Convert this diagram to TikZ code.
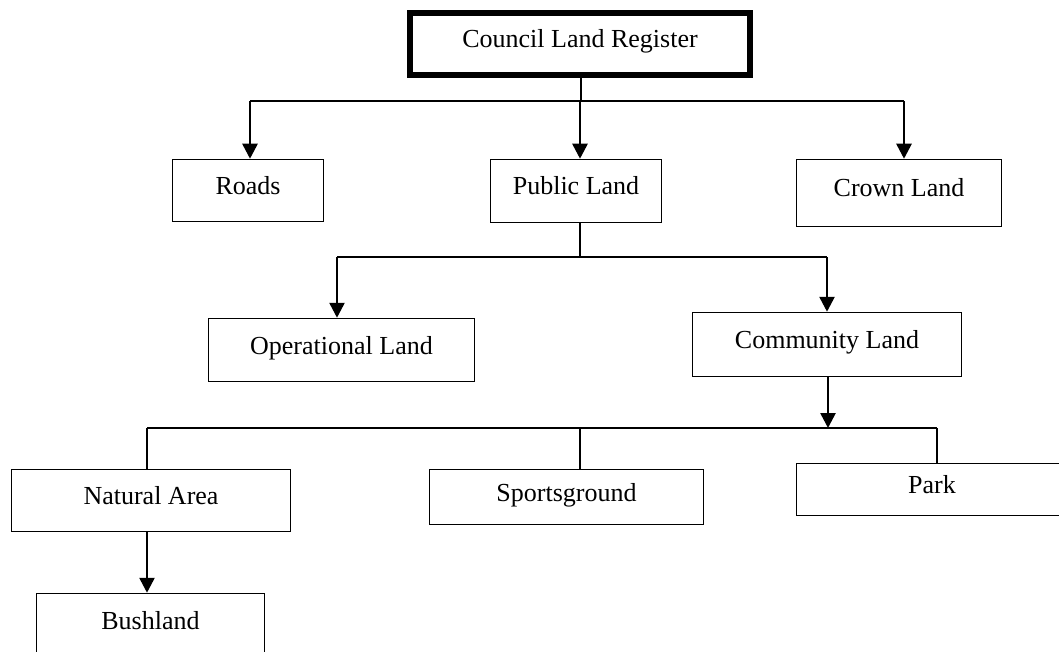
\documentclass[tikz,border=0pt]{standalone}
\usepackage{fontspec}
\setmainfont{Liberation Serif}
\usetikzlibrary{arrows.meta}
\tikzset{
  box/.style={draw, line width=1.5pt, inner sep=0pt, text height=17pt, text depth=9pt,
    font=\fontsize{26}{30}\selectfont, align=center},
  mainbox/.style={box, line width=6pt},
  bus/.style={line width=2pt},
  thin/.style={line width=1.4pt},
  arr/.style={line width=2.6pt, -{Triangle[length=15pt,width=15pt]}},
}
\begin{document}
\begin{tikzpicture}[x=1pt,y=-1pt]
\useasboundingbox (0,0) rectangle (1059,652);
\clip (0,0) rectangle (1059,652);
% nodes
\node[mainbox, minimum width=340pt, minimum height=62pt] (cl) at (580,44) {Council Land Register};
\node[box, minimum width=151pt, minimum height=62pt] (rd) at (248,190.5) {Roads};
\node[box, minimum width=171pt, minimum height=63pt] (pl) at (576,191) {Public Land};
\node[box, minimum width=205pt, minimum height=67pt] (crl) at (899,193) {Crown Land};
\node[box, minimum width=266pt, minimum height=63pt] (op) at (341.5,350) {Operational Land};
\node[box, minimum width=269pt, minimum height=64pt] (cm) at (827,344.5) {Community Land};
\node[box, minimum width=279pt, minimum height=62pt] (na) at (151,500.5) {Natural Area};
\node[box, minimum width=274pt, minimum height=55pt] (sg) at (566.5,497) {Sportsground};
\node[box, minimum width=271pt, minimum height=52pt] (pk) at (932,489.5) {Park};
\node[box, minimum width=228pt, minimum height=63pt] (bl) at (150.5,625) {Bushland};
% bus coordinates
\coordinate (b1) at (580,101);
\coordinate (b2) at (580,257);
\coordinate (b3) at (580,428);
% level 1
\draw[bus] ([xshift=1pt]cl.south) -- ([xshift=1pt]cl.south |- b1);
\draw[bus] ([xshift=2pt]rd.north |- b1) -- ([xshift=5pt]crl.north |- b1);
\draw[arr] ([xshift=2pt]rd.north |- b1) -- ([xshift=2pt]rd.north);
\draw[arr] ([xshift=4pt]pl.north |- b1) -- ([xshift=4pt]pl.north);
\draw[arr] ([xshift=5pt]crl.north |- b1) -- ([xshift=5pt]crl.north);
% level 2
\draw[thin] ([xshift=4pt]pl.south) -- ([xshift=4pt]pl.south |- b2);
\draw[bus] ([xshift=-4.5pt]op.north |- b2) -- (cm.north |- b2);
\draw[arr] ([xshift=-4.5pt]op.north |- b2) -- ([xshift=-4.5pt]op.north);
\draw[arr] (cm.north |- b2) -- (cm.north);
% level 3
\draw[arr] ([xshift=1pt]cm.south) -- ([xshift=1pt]cm.south |- b3);
\draw[thin] ([xshift=-4pt]na.north |- b3) -- ([xshift=5pt]pk.north |- b3);
\draw[thin] ([xshift=-4pt]na.north |- b3) -- ([xshift=-4pt]na.north);
\draw[thin] ([xshift=13.5pt]sg.north |- b3) -- ([xshift=13.5pt]sg.north);
\draw[thin] ([xshift=5pt]pk.north |- b3) -- ([xshift=5pt]pk.north);
% level 4
\draw[arr] ([xshift=-4pt]na.south) -- ([xshift=-4pt]na.south |- bl.north);
\end{tikzpicture}
\end{document}
